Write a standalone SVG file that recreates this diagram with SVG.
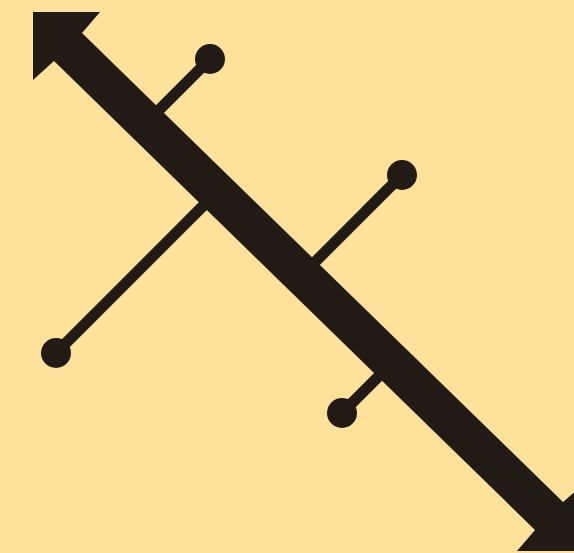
<svg xmlns="http://www.w3.org/2000/svg" width="574" height="553" viewBox="0 0 574 553">
<style>
.br{stroke:#221a15;stroke-width:11;fill:none}
.dot{fill:#221a15}
</style>
<rect width="574" height="553" fill="#fee19b"/>
<g id="branch1"><line class="br" x1="210" y1="59" x2="145" y2="124"/><circle class="dot" cx="210" cy="59" r="15"/></g>
<g id="branch2"><line class="br" x1="56" y1="353" x2="215" y2="194"/><circle class="dot" cx="56" cy="353" r="15"/></g>
<g id="branch3"><line class="br" x1="402" y1="175" x2="305" y2="272"/><circle class="dot" cx="402" cy="175" r="15"/></g>
<g id="branch4"><line class="br" x1="342" y1="413" x2="390" y2="365"/><circle class="dot" cx="342" cy="413" r="15"/></g>
<g id="shaft"><polygon fill="#221a15" points="33,12 100,12 82,33 563,502 584,484 584,551 517,551 535,530 54,61 33,80"/></g>
</svg>
